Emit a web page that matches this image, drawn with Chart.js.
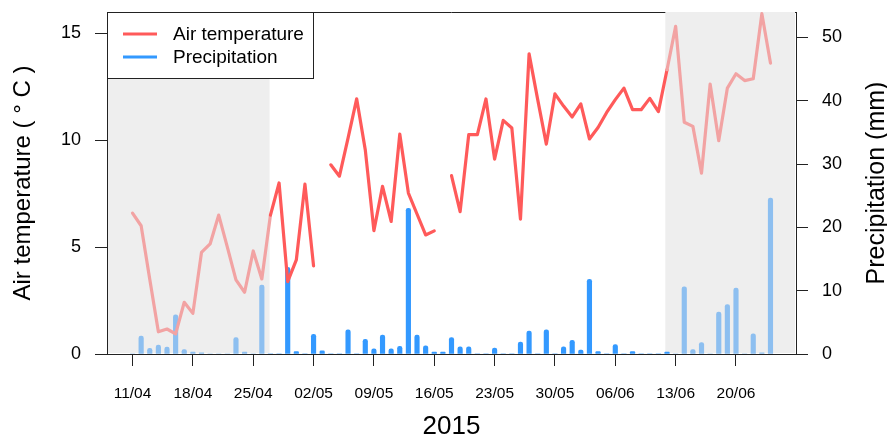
<!DOCTYPE html>
<html>
<head>
<meta charset="utf-8">
<script src="https://cdn.jsdelivr.net/npm/chart.js@4.4.0/dist/chart.umd.min.js"></script>
<style>
  html, body { margin: 0; background: #fff; }
  #wrap { width: 887px; height: 437px; }
</style>
</head>
<body>
<div id="wrap"><canvas id="chart" width="887" height="437"></canvas></div>
<script>
// daily values, 11/04/2015 .. 24/06/2015
const days = [
  '11/04','12/04','13/04','14/04','15/04','16/04','17/04','18/04','19/04','20/04',
  '21/04','22/04','23/04','24/04','25/04','26/04','27/04','28/04','29/04','30/04',
  '01/05','02/05','03/05','04/05','05/05','06/05','07/05','08/05','09/05','10/05',
  '11/05','12/05','13/05','14/05','15/05','16/05','17/05','18/05','19/05','20/05',
  '21/05','22/05','23/05','24/05','25/05','26/05','27/05','28/05','29/05','30/05',
  '31/05','01/06','02/06','03/06','04/06','05/06','06/06','07/06','08/06','09/06',
  '10/06','11/06','12/06','13/06','14/06','15/06','16/06','17/06','18/06','19/06',
  '20/06','21/06','22/06','23/06','24/06'
];

const temperature = [
  6.59, 6.0, 3.5, 1.04, 1.17, 0.94, 2.42, 1.9, 4.75, 5.15,
  6.5, 5.0, 3.47, 2.89, 4.82, 3.51, 6.5, 8.0, 3.39, 4.4,
  7.95, 4.12, null, 8.85, 8.32, 10.1, 11.94, 9.55, 5.77, 7.84,
  6.2, 10.29, 7.53, 6.55, 5.57, 5.76, null, 8.35, 6.66, 10.26,
  10.26, 11.93, 9.12, 10.93, 10.57, 6.31, 14.04, 11.9, 9.82, 12.17,
  11.6, 11.09, 11.7, 10.06, 10.6, 11.3, 11.9, 12.44, 11.43, 11.43,
  11.96, 11.34, 13.3, 15.33, 10.84, 10.65, 8.46, 12.63, 9.98, 12.44,
  13.11, 12.79, 12.88, 15.92, 13.61
];

const precipitation = [
  0, 2.84, 0.9, 1.4, 1.1, 6.2, 0.7, 0.3, 0.2, 0,
  0, 0, 2.6, 0.3, 0, 10.9, 0, 0, 13.7, 0.4,
  0, 3.1, 0.5, 0, 0, 3.8, 0, 2.3, 0.8, 3.0,
  0.8, 1.2, 23.0, 3.0, 1.3, 0.3, 0.3, 2.6, 1.15, 1.15,
  0, 0, 0.95, 0, 0, 1.9, 3.6, 0, 3.8, 0,
  1.15, 2.15, 0.6, 11.8, 0.4, 0, 1.5, 0, 0.4, 0,
  0, 0, 0.3, 0, 10.6, 0.7, 1.8, 0, 6.6, 7.8,
  10.4, 0, 3.2, 0.2, 24.6
];

const xTickLabels = ['11/04','18/04','25/04','02/05','09/05','16/05','23/05','30/05','06/06','13/06','20/06'];
const tempTicks = [0, 5, 10, 15];
const precipTicks = [0, 10, 20, 30, 40, 50];

// shaded (faded) periods: up to 26/04 and from 13/06
const lastFadedStart = '26/04';
const firstFadedEnd = '13/06';

const red = '#ff5a5a', redLight = '#f2a3a3';
const blue = '#3399ff', blueLight = '#8dbff0';
const axisColor = '#222';
const fontFamily = "'Liberation Sans', Arial, Helvetica, sans-serif";

const iLeft = days.indexOf(lastFadedStart);
const iRight = days.indexOf(firstFadedEnd);
const isFaded = i => i <= iLeft || i >= iRight;

Chart.defaults.font.family = fontFamily;
Chart.defaults.color = '#000';

// drop the label padding chart.js reserves so the plot box sits where we want it
function noPad(s) {
  s.paddingTop = 0;
  s.paddingBottom = 0;
  s.paddingLeft = 0;
  s.paddingRight = 0;
}

const decorations = {
  id: 'decorations',
  beforeDatasetsDraw(chart) {
    const { ctx, chartArea: a, scales: { x } } = chart;
    ctx.save();
    ctx.strokeStyle = axisColor;
    ctx.lineWidth = 1;
    ctx.beginPath();
    ctx.moveTo(a.left, a.top + 0.5);
    ctx.lineTo(a.right, a.top + 0.5);
    ctx.stroke();
    ctx.fillStyle = '#eeeeee';
    const leftEnd = x.getPixelForValue(iLeft + 0.9);
    ctx.fillRect(a.left + 1, a.top, leftEnd - a.left - 1, a.bottom - a.top - 1);
    const rightStart = x.getPixelForValue(iRight - 1.2);
    ctx.fillRect(rightStart, a.top, a.right - 1 - rightStart, a.bottom - a.top - 1);
    ctx.restore();
  },
  afterDraw(chart) {
    const { ctx, chartArea: a } = chart;
    const midY = (a.top + a.bottom) / 2;
    ctx.save();
    ctx.fillStyle = '#000';
    ctx.textAlign = 'center';
    ctx.textBaseline = 'middle';

    ctx.font = '24px ' + fontFamily;
    ctx.save();
    ctx.translate(23, midY);
    ctx.rotate(-Math.PI / 2);
    ctx.fillText('Air temperature ( \u00b0 C )', 0, 0);
    ctx.restore();

    ctx.font = '25px ' + fontFamily;
    ctx.save();
    ctx.translate(877, midY);
    ctx.rotate(-Math.PI / 2);
    ctx.fillText('Precipitation (mm)', 0, 0);
    ctx.restore();

    ctx.font = '26px ' + fontFamily;
    ctx.fillText('2015', (a.left + a.right) / 2, 427);

    // legend
    ctx.fillStyle = '#fff';
    ctx.fillRect(a.left, a.top, 206, 66);
    ctx.strokeStyle = axisColor;
    ctx.lineWidth = 1;
    ctx.strokeRect(a.left + 0.5, a.top + 0.5, 206, 66);
    const items = [['Air temperature', red], ['Precipitation', blue]];
    ctx.font = '19px ' + fontFamily;
    ctx.textAlign = 'left';
    items.forEach(([label, color], k) => {
      const y = a.top + 22 + k * 23;
      ctx.strokeStyle = color;
      ctx.lineWidth = 3;
      ctx.beginPath();
      ctx.moveTo(a.left + 16, y);
      ctx.lineTo(a.left + 50, y);
      ctx.stroke();
      ctx.fillStyle = '#000';
      ctx.fillText(label, a.left + 66, y + 1);
    });
    ctx.restore();
  }
};

new Chart(document.getElementById('chart'), {
  type: 'bar',
  data: {
    datasets: [
      {
        type: 'line',
        label: 'Air temperature',
        yAxisID: 'y',
        order: 0,
        data: days.map((d, i) => ({ x: i, y: temperature[i] })),
        borderColor: red,
        borderWidth: 3.2,
        borderCapStyle: 'round',
        borderJoinStyle: 'round',
        pointRadius: 0,
        tension: 0,
        spanGaps: false,
        segment: {
          borderColor: c => (c.p0DataIndex <= iLeft || c.p1DataIndex >= iRight) ? redLight : red
        }
      },
      {
        label: 'Precipitation',
        yAxisID: 'y2',
        order: 1,
        data: days.map((d, i) => ({ x: i, y: precipitation[i] })),
        backgroundColor: days.map((d, i) => isFaded(i) ? blueLight : blue),
        barThickness: 4.5,
        borderWidth: 0,
        borderRadius: { topLeft: 2.25, topRight: 2.25, bottomLeft: 0, bottomRight: 0 },
        borderSkipped: 'start'
      }
    ]
  },
  options: {
    responsive: false,
    devicePixelRatio: 1,
    animation: false,
    layout: { padding: { top: 12, left: 0, right: 0, bottom: 0 } },
    plugins: { legend: { display: false }, tooltip: { enabled: false } },
    scales: {
      x: {
        type: 'linear',
        min: -2.96,
        max: 76.96,
        offset: false,
        grid: { offset: false, drawOnChartArea: false, tickLength: 12, color: axisColor },
        border: { color: axisColor },
        ticks: {
          autoSkip: false, maxRotation: 0, padding: 18,
          font: { size: 15.5 }, color: '#000',
          callback: v => xTickLabels.find(l => days.indexOf(l) === v) || ''
        },
        afterBuildTicks: s => { s.ticks = xTickLabels.map(l => ({ value: days.indexOf(l) })); },
        afterFit: s => { s.height = 83; noPad(s); }
      },
      y: {
        position: 'left',
        min: 0,
        max: 16,
        grid: { drawOnChartArea: false, tickLength: 12, color: axisColor },
        border: { color: axisColor },
        ticks: { padding: 14, font: { size: 18 }, color: '#000' },
        afterBuildTicks: s => { s.ticks = tempTicks.map(v => ({ value: v })); },
        afterFit: s => { s.width = 107; noPad(s); }
      },
      y2: {
        position: 'right',
        min: 0,
        max: 54,
        grid: { drawOnChartArea: false, tickLength: 12, color: axisColor },
        border: { color: axisColor },
        ticks: { padding: 14, font: { size: 18 }, color: '#000' },
        afterBuildTicks: s => { s.ticks = precipTicks.map(v => ({ value: v })); },
        afterFit: s => { s.width = 91; noPad(s); }
      }
    }
  },
  plugins: [decorations]
});
</script>
</body>
</html>
